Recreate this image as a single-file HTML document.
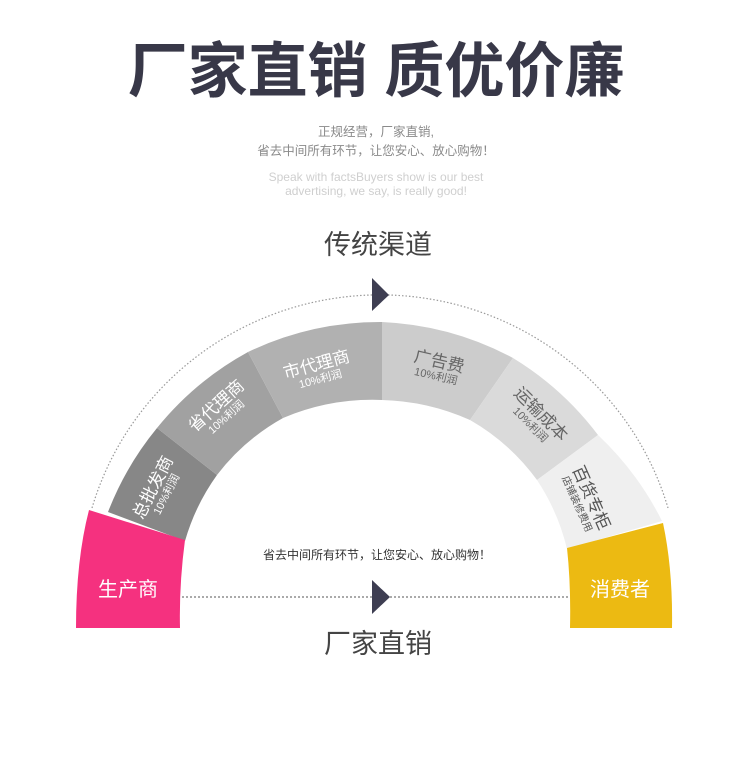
<!DOCTYPE html>
<html><head><meta charset="utf-8"><style>
html,body{margin:0;padding:0;background:#fff;}
svg{display:block;}
text{font-family:"Liberation Sans","Noto Sans CJK SC",sans-serif;}
</style></head><body>
<svg width="750" height="773" viewBox="0 0 750 773" xmlns="http://www.w3.org/2000/svg">
<text x="376" y="92" text-anchor="middle" font-size="60" font-weight="bold" fill="#383848">厂家直销 质优价廉</text>
<text x="376" y="136" text-anchor="middle" font-size="12.5" fill="#8a8a8a">正规经营，厂家直销,</text>
<text x="376" y="155" text-anchor="middle" font-size="12.5" fill="#8a8a8a">省去中间所有环节，让您安心、放心购物！</text>
<text x="376" y="181" text-anchor="middle" font-size="12" fill="#cfcfcf">Speak with factsBuyers show is our best</text>
<text x="376" y="195" text-anchor="middle" font-size="12" fill="#cfcfcf">advertising, we say, is really good!</text>
<text x="378" y="254" text-anchor="middle" font-size="27" fill="#444">传统渠道</text>

<path d="M92,508 A300 296 0 0 1 668,508" fill="none" stroke="#999" stroke-width="1.2" stroke-dasharray="1.5 2"/>
<polygon points="372,278 389,295 372,311" fill="#3e3e52"/>

<!-- segments -->
<path d="M108,512 A306 306 0 0 1 157,428 L217,475 A215 215 0 0 0 185,541 Z" fill="#878787"/>
<path d="M157,428 A306 306 0 0 1 248,352 L283,418 A215 215 0 0 0 217,475 Z" fill="#a1a1a1"/>
<path d="M248,352 A306 306 0 0 1 382,322 L382,400 A230 230 0 0 0 283,418 Z" fill="#b1b1b1"/>
<path d="M382,322 A306 306 0 0 1 513,358 L470,420 A230 230 0 0 0 382,400 Z" fill="#cccccc"/>
<path d="M513,358 A306 306 0 0 1 598,435 L537,480 A215 215 0 0 0 470,420 Z" fill="#dadada"/>
<path d="M598,435 A306 306 0 0 1 662,521 L567,549 A215 215 0 0 0 537,480 Z" fill="#efefef"/>
<path d="M76,628 Q76,560 89,510 L185,540 Q179,585 180,628 Z" fill="#f5317f"/>
<path d="M663,523 Q673,570 672,628 L570,628 Q571,585 567,548 Z" fill="#ecba12"/>

<text x="128" y="596" text-anchor="middle" font-size="20" fill="#fff">生产商</text>
<text x="620" y="596" text-anchor="middle" font-size="20" fill="#fff">消费者</text>

<g transform="translate(158,490) rotate(-63)"><text x="0" y="0" text-anchor="middle" font-size="17" fill="#fff">总批发商</text><text x="0" y="13" text-anchor="middle" font-size="11" fill="#fff">10%利润</text></g>
<g transform="translate(220,410) rotate(-42)"><text x="0" y="0" text-anchor="middle" font-size="17" fill="#fff">省代理商</text><text x="0" y="13" text-anchor="middle" font-size="11" fill="#fff">10%利润</text></g>
<g transform="translate(318,370) rotate(-15)"><text x="0" y="0" text-anchor="middle" font-size="17" fill="#fff">市代理商</text><text x="0" y="13" text-anchor="middle" font-size="11" fill="#fff">10%利润</text></g>
<g transform="translate(438,367) rotate(13)"><text x="0" y="0" text-anchor="middle" font-size="17" fill="#666">广告费</text><text x="0" y="13" text-anchor="middle" font-size="11" fill="#666">10%利润</text></g>
<g transform="translate(537,418) rotate(45)"><text x="0" y="0" text-anchor="middle" font-size="17" fill="#666">运输成本</text><text x="0" y="13" text-anchor="middle" font-size="11" fill="#666">10%利润</text></g>
<g transform="translate(586,500) rotate(66)"><text x="0" y="0" text-anchor="middle" font-size="17" fill="#555">百货专柜</text><text x="0" y="13" text-anchor="middle" font-size="10" fill="#555">店铺装修费用</text></g>

<text x="377" y="559" text-anchor="middle" font-size="12" fill="#333">省去中间所有环节，让您安心、放心购物！</text>
<line x1="182" y1="597" x2="570" y2="597" stroke="#555" stroke-width="1" stroke-dasharray="2 2"/>
<polygon points="372,580 390,597 372,614" fill="#3e3e52"/>
<text x="378" y="653" text-anchor="middle" font-size="27" fill="#444">厂家直销</text>
</svg>
</body></html>
